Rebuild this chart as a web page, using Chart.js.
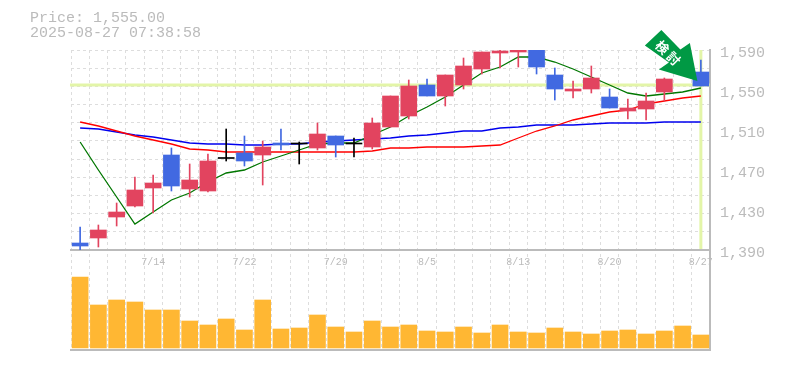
<!DOCTYPE html>
<html><head><meta charset="utf-8">
<style>html,body{margin:0;padding:0;background:#fff}#w{width:785px;height:370px;position:relative}</style>
<script src="https://cdn.jsdelivr.net/npm/chart.js@4"></script></head>
<body><div id="w"><canvas id="c" width="785" height="370"></canvas></div>
<script>
const titleLines = ['Price: 1,555.00','2025-08-27 07:38:58'];
const lastPrice = 1555;
const priceTicks = [1390,1430,1470,1510,1550,1590];
const tickLabels = {4:'7/14',9:'7/22',14:'7/29',19:'8/5',24:'8/13',29:'8/20',34:'8/27'};
const categories = ['7/8','7/9','7/10','7/11','7/14','7/15','7/16','7/17','7/18','7/22','7/23','7/24','7/25','7/28','7/29','7/30','7/31','8/1','8/4','8/5','8/6','8/7','8/8','8/12','8/13','8/14','8/15','8/18','8/19','8/20','8/21','8/22','8/25','8/26','8/27'];
const bodyLow  = [1394,1402,1423,1434,1452,1454,1451,1449,1481.5,1479,1485,1495,1496,1492,1495,1496,1493,1513,1524,1544,1544,1555,1571,1587,1588,1573,1551,1549,1551,1532,1529,1531,1548,1572,1554];
const bodyHigh = [1397,1410,1428,1450,1457,1485,1460,1479,1481.5,1487,1493,1497,1496,1506,1504,1496,1517,1544,1554,1555,1565,1574,1588,1589,1591,1590,1565,1551,1562,1543,1532,1539,1561,1582,1568];
const wickLow  = [1389,1393,1414,1433,1427,1449,1443,1448,1479,1474,1455,1490,1476,1490,1483,1483,1491,1513,1521,1544,1534,1551,1566,1572,1573,1566,1540,1542,1547,1532,1521,1520,1539,1570,1554];
const wickHigh = [1413,1415,1437,1463,1465,1492,1476,1486,1511,1504,1499,1511,1498,1517,1504,1502,1522,1544,1560,1561,1565,1582,1588,1590,1591,1590,1572,1559,1574,1551,1541,1547,1562,1585,1580];
const candleKind = ['b','r','r','r','r','b','r','r','k','b','r','b','k','r','b','k','r','r','r','b','r','r','r','r','r','b','b','r','r','b','r','r','r','b','b'];
const maShort = [1498,1470,1443,1416,1428,1440,1447,1458,1467,1470,1478,1484,1490,1496,1497,1497,1505,1513,1524,1533,1543,1555,1567,1573,1583,1583,1578,1571,1563,1555,1547,1544,1546,1548,1552];
const maMid   = [1518,1514,1509,1504,1500,1496,1491,1490,1488,1488,1488,1488,1488,1488,1488,1488,1489,1492,1492,1493,1493,1493,1494,1495,1502,1509,1514,1520,1524,1528,1530,1536,1539,1542,1544];
const maLong  = [1512,1511,1508,1505,1503,1500,1497,1496,1496,1495,1495,1496,1496,1498,1499,1500,1501,1502,1504,1505,1507,1509,1509,1512,1513,1515,1515,1515,1516,1517,1517,1517,1518,1518,1518];
const volumes = [71,43,48,46,38,38,27,23,29,18,48,19,20,33,21,16,27,21,23,17,16,21,15,23,16,15,20,16,14,17,18,14,17,22,13];

const COL = {r:'#E2445F',b:'#4169E1',k:'#000000'};
const GRID='#dddddd', AXIS='#bbbbbb', TXT='#bbbbbb', HL='#E3F5A8', MONO='"Liberation Mono", monospace';
const gridVals = Array.from({length:12},(_,i)=>1390+i*200/11);

const overlay = {
  id:'overlay',
  beforeDatasetsDraw(ch){
    const {ctx,chartArea:a,scales:{x,price}} = ch;
    const y = price.getPixelForValue(lastPrice), vx = x.getPixelForValue(34);
    ctx.save(); ctx.strokeStyle=HL; ctx.lineWidth=3;
    ctx.beginPath(); ctx.moveTo(a.left-1,y); ctx.lineTo(a.right,y);
    ctx.moveTo(vx,price.top); ctx.lineTo(vx,price.bottom-1); ctx.stroke(); ctx.restore();
  },
  afterDraw(ch){
    const {ctx,scales:{x,price}} = ch;
    ctx.save();
    ctx.fillStyle=TXT; ctx.font='15px '+MONO; ctx.textBaseline='alphabetic'; ctx.textAlign='left';
    ctx.fillText(titleLines[0],30,22); ctx.fillText(titleLines[1],30,37);
    // arrow anchored to last candle
    const tx = x.getPixelForValue(34)-3.5, ty = price.getPixelForValue(1559);
    const d=[[0,0],[-7.5,-38],[-17,-31.5],[-36,-51],[-52.5,-35.5],[-28.5,-18.5],[-38.5,-11.5]];
    ctx.fillStyle='#009944'; ctx.beginPath();
    d.forEach((p,i)=>i?ctx.lineTo(tx+p[0],ty+p[1]):ctx.moveTo(tx+p[0],ty+p[1]));
    ctx.closePath(); ctx.fill();
    ctx.translate(tx-29.5,ty-28); ctx.rotate(Math.PI/4);
    ctx.fillStyle='#fff'; ctx.font='bold 13px "Noto Sans CJK JP"'; ctx.textAlign='center'; ctx.textBaseline='middle';
    ctx.fillText('検',-8,0); ctx.fillText('討',8,0);
    ctx.restore();
  }
};

new Chart(document.getElementById('c'),{
  type:'bar',
  plugins:[overlay],
  data:{labels:categories,datasets:[
    {label:'body',yAxisID:'price',data:categories.map((_,i)=>[bodyLow[i],bodyHigh[i]]),backgroundColor:candleKind.map(k=>COL[k]),barThickness:16,grouped:false,minBarLength:1,order:1},
    {label:'wick',yAxisID:'price',data:categories.map((_,i)=>[wickLow[i],wickHigh[i]]),backgroundColor:candleKind.map(k=>COL[k]),barThickness:1,grouped:false,order:2},
    {label:'volume',yAxisID:'vol',data:volumes,backgroundColor:'#FFB733',barThickness:16,grouped:false,order:3},
    {label:'short',type:'line',yAxisID:'price',data:maShort,borderColor:'#007700',borderWidth:1.3,pointRadius:0,tension:0,order:4},
    {label:'mid',type:'line',yAxisID:'price',data:maMid,borderColor:'#ff0000',borderWidth:1.3,pointRadius:0,tension:0,order:5},
    {label:'long',type:'line',yAxisID:'price',data:maLong,borderColor:'#0000ee',borderWidth:1.3,pointRadius:0,tension:0,order:6}
  ]},
  options:{
    responsive:false,animation:false,
    layout:{padding:{left:71,top:50,bottom:20,right:0}},
    plugins:{legend:{display:false},tooltip:{enabled:false}},
    scales:{
      x:{type:'category',position:{price:1390},offset:true,
        grid:{color:GRID,offset:true,drawTicks:false},
        border:{color:AXIS,width:2,dash:[3,3]},
        ticks:{autoSkip:false,maxRotation:0,minRotation:0,padding:6,color:TXT,font:{family:MONO,size:10},
          callback(v,i){return tickLabels[i]||'';}}},
      x2:{type:'category',position:{vol:-2},offset:true,grid:{display:false},border:{color:AXIS,width:2},ticks:{display:false}},
      price:{type:'linear',position:'right',stack:'p',stackWeight:2,min:1390,max:1590,
        afterBuildTicks(s){
          const t=gridVals.map(v=>({value:v}));
          priceTicks.forEach(v=>{if(!t.some(o=>Math.abs(o.value-v)<0.01))t.push({value:v});});
          s.ticks=t.sort((a,b)=>a.value-b.value);
        },
        grid:{drawTicks:false,color(c){return gridVals.some(v=>Math.abs(v-c.tick.value)<0.01)?GRID:'rgba(0,0,0,0)';}},
        border:{color:AXIS,width:2,dash:[3,3]},
        ticks:{autoSkip:false,padding:10,labelOffset:3,color:TXT,font:{family:MONO,size:15},
          callback(v){return priceTicks.includes(v)?v.toLocaleString('en-US'):'';}},
        afterFit(s){s.width=75;}},
      vol:{type:'linear',position:'right',stack:'p',stackWeight:1,min:-2,max:98,
        grid:{display:false},border:{color:AXIS,width:2},ticks:{display:false},
        afterFit(s){s.width=75;}}
    }
  }
});
</script></body></html>
